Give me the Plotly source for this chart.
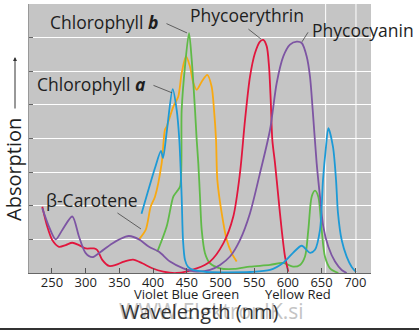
import plotly.graph_objects as go

# ---- data (wavelength nm, relative absorption) ----
chl_a_w = [382.8, 402.8, 411.7, 414.7, 420.6, 429.1, 435.0, 438.9, 442.4, 444.4, 447.3, 451.8, 459.2, 479.5, 510, 543.8, 573.5, 592.7, 607.6, 620.5, 632.8, 640.2, 647.6, 652.1, 656.5, 660.0, 666.9, 671.4, 674.3, 679.8, 687.3, 694.7, 701]
chl_a_y = [1.76, 3.12, 3.63, 3.42, 4.26, 5.47, 4.85, 3.96, 2.26, 0.98, 0.39, 0.18, 0.09, 0.03, 0.02, 0.03, 0.09, 0.30, 0.60, 0.81, 0.60, 0.69, 1.28, 2.77, 3.75, 4.31, 3.75, 2.77, 1.79, 0.98, 0.48, 0.18, 0.03]

chl_b_w = [406.2, 420.1, 430.0, 435.0, 440.0, 442.4, 447.3, 453.3, 457.3, 462.2, 464.7, 467.1, 469.6, 472.1, 477.0, 484.4, 499.3, 520, 543.8, 573.5, 592.7, 607.6, 618.0, 625.4, 630.3, 635.3, 640.2, 645.1, 650.1, 655.0, 662.5, 674.8]
chl_b_y = [0.63, 1.38, 2.27, 2.42, 2.57, 4.85, 6.14, 7.13, 6.34, 4.85, 3.96, 3.26, 2.27, 1.28, 0.59, 0.29, 0.14, 0.12, 0.19, 0.24, 0.30, 0.19, 0.24, 0.49, 1.28, 2.27, 2.45, 2.27, 1.28, 0.49, 0.14, 0.0]

car_w = [379.1, 389.0, 396.4, 402.8, 412.7, 417.6, 420.1, 430.0, 437.4, 442.4, 448.8, 454.7, 459.7, 464.7, 472.1, 480.4, 486.9, 490.4, 493.4, 495.3, 501.8, 509.3, 516.6, 524.0]
car_y = [1.00, 1.28, 1.97, 2.27, 3.26, 4.26, 4.35, 4.95, 5.25, 5.94, 6.44, 6.14, 5.65, 5.45, 5.69, 5.89, 5.54, 4.85, 3.96, 2.77, 1.78, 0.98, 0.59, 0.34]

pe_w = [235.6, 243.0, 250.4, 260.4, 270.3, 280.1, 290.1, 300.0, 312.3, 317.2, 324.6, 334.6, 344.5, 356.8, 370.2, 384.0, 398.8, 415.1, 435.0, 464.7, 484.4, 504.2, 519.0, 528.9, 536.4, 543.8, 551.2, 558.6, 563.5, 568.6, 572.0, 574.5, 576.9, 580.9, 585.8, 590.8, 595.7, 600.6]
pe_y = [1.97, 1.38, 0.98, 0.78, 0.83, 0.90, 0.83, 0.73, 0.73, 0.68, 0.39, 0.21, 0.24, 0.34, 0.40, 0.29, 0.14, 0.04, 0.0, 0.14, 0.34, 0.88, 1.68, 2.97, 4.55, 5.84, 6.54, 6.88, 6.93, 6.74, 6.14, 5.15, 3.96, 3.26, 2.27, 1.28, 0.49, 0.04]

pc_w = [235.6, 245.5, 255.5, 265.3, 280.1, 290.1, 300.0, 309.8, 319.7, 339.5, 359.3, 364.2, 379.1, 393.9, 408.8, 425.1, 444.8, 464.7, 484.4, 499.3, 514.1, 528.9, 543.8, 558.6, 573.5, 583.4, 593.2, 603.1, 613.1, 620.5, 627.9, 632.8, 636.8, 642.7, 647.6, 652.5, 660.0, 669.9, 679.8, 687.2]
pc_y = [1.93, 1.38, 1.00, 1.28, 1.68, 1.08, 0.59, 0.47, 0.59, 0.88, 1.08, 1.10, 1.00, 0.78, 0.63, 0.34, 0.14, 0.04, 0.09, 0.24, 0.49, 0.98, 1.78, 2.97, 4.26, 5.65, 6.44, 6.79, 6.88, 6.84, 6.44, 5.84, 4.85, 3.26, 2.27, 1.38, 0.78, 0.34, 0.09, 0.0]

x_ticks = [250, 300, 350, 400, 450, 500, 550, 600, 650, 700]

series = [
    ("β-Carotene", car_w, car_y, "#f8a912"),
    ("Chlorophyll b", chl_b_w, chl_b_y, "#5fba47"),
    ("Phycoerythrin", pe_w, pe_y, "#e1163d"),
    ("Phycocyanin", pc_w, pc_y, "#7d55a3"),
    ("Chlorophyll a", chl_a_w, chl_a_y, "#1d9ad6"),
]

fig = go.Figure()
for name, xs, ys, col in series:
    fig.add_trace(go.Scatter(x=xs, y=ys, mode="lines", name=name,
                             line=dict(color=col, width=1.8, shape="spline", smoothing=0.8),
                             hoverinfo="skip"))

FONT = "Open Sans"
TXT = "#1e1e1e"

labels = [
    ("Chlorophyll <i><b>b</b></i>", 327.2, 7.47, 450.3, 7.14, -22, -10),
    ("Chlorophyll <i><b>a</b></i>", 307.9, 5.62, 428.0, 5.36, -20, -8),
    ("Phycoerythrin", 539.3, 7.68, 560.0, 6.96, -14, -11),
    ("Phycocyanin", 711.4, 7.23, 620.9, 6.875, 7, -11),
    ("β-Carotene", 309.3, 2.17, 382.0, 1.31, -25, -17),
]
ann = []
for t, tx, ty, px, py, ax, ay in labels:
    ann.append(dict(x=tx, y=ty, xref="x", yref="y", text=t, showarrow=False,
                    xanchor="center", yanchor="middle",
                    font=dict(family=FONT, size=17.5, color=TXT)))
    ann.append(dict(x=px, y=py, xref="x", yref="y", text="", showarrow=True,
                    ax=ax, ay=ay, axref="pixel", ayref="pixel", arrowhead=0,
                    arrowwidth=0.8, arrowcolor="#444"))


def pap(px, py):
    return (px - 29) / 342, (273 - py) / 269


def txt(text, px, py, size, color=TXT, angle=0):
    x, y = pap(px, py)
    ann.append(dict(x=x, y=y, xref="paper", yref="paper", text=text, textangle=angle,
                    xanchor="center", yanchor="middle", showarrow=False,
                    font=dict(family=FONT, size=size, color=color)))


txt("Absorption", 13, 170, 20, angle=-90)
ax0, ay0 = pap(15, 57)
ann.append(dict(x=ax0, y=ay0, xref="paper", yref="paper", text="",
                showarrow=True, ax=0, ay=53, axref="pixel", ayref="pixel",
                arrowhead=2, arrowsize=0.8, arrowwidth=1, arrowcolor="#333"))
txt("Violet Blue Green", 186.5, 294, 13)
txt("Yellow Red", 297.5, 294, 13)
txt("WWW.ElektronIK.si", 211, 311, 21, color="#c4c4c4")
txt("Wavelength (nm)", 199, 311, 20, color="#333")

shapes = []
for gx in [656, 701]:
    shapes.append(dict(type="line", xref="x", yref="paper", x0=gx, x1=gx, y0=0, y1=1,
                       line=dict(color="white", width=1), layer="below"))
shapes.append(dict(type="line", xref="paper", yref="paper", x0=-29 / 342, x1=390 / 342,
                   y0=-(329 - 273) / 269, y1=-(329 - 273) / 269, line=dict(color="#333", width=2)))

fig.update_layout(
    width=419, height=330, autosize=False,
    margin=dict(l=29, r=48, t=4, b=57),
    paper_bgcolor="white", plot_bgcolor="#c5c5c5",
    showlegend=False,
    annotations=ann, shapes=shapes,
    xaxis=dict(range=[215.9, 723.3], tickvals=x_ticks, ticks="inside", ticklen=5,
               tickcolor="#555", showgrid=False, zeroline=False, showline=True,
               linecolor="#666", linewidth=1, ticklabelstandoff=-3,
               tickfont=dict(family=FONT, size=13, color=TXT)),
    yaxis=dict(range=[0, 8.0], tickvals=[1, 2, 3, 4, 5, 6, 7], showticklabels=False,
               ticks="inside", ticklen=4, tickcolor="#666", showgrid=True, gridcolor="white",
               gridwidth=1, zeroline=False, showline=True, linecolor="#999", linewidth=1),
)

fig.write_html("out.html")
